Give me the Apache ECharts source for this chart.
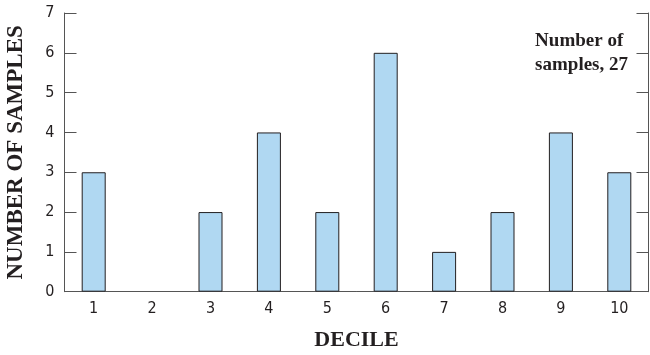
<!DOCTYPE html>
<html>
<head>
<meta charset="utf-8">
<script src="https://cdn.jsdelivr.net/npm/echarts@6/dist/echarts.min.js"></script>
<style>
  html, body { margin: 0; padding: 0; background: #fff; }
  #chart { width: 650px; height: 355px; }
</style>
</head>
<body>
<div id="chart"></div>
<script>
// deciles and sample counts
var deciles = ['1', '2', '3', '4', '5', '6', '7', '8', '9', '10'];
var counts = [3, 0, 2, 4, 2, 6, 1, 2, 4, 3];
var yTicks = [0, 1, 2, 3, 4, 5, 6, 7];
var noteLines = ['Number of', 'samples, 27'];

var axisColor = '#555';
var labelFont = '"Liberation Sans Narrow", "DejaVu Sans Condensed", sans-serif';
var titleFont = '"Liberation Serif", "DejaVu Serif", serif';

// empty deciles get no outline, so nothing sits on the axis
var barData = counts.map(function (v) {
    return v === 0 ? { value: v, itemStyle: { borderWidth: 0 } } : v;
});

var chart = echarts.init(document.getElementById('chart'));
var option = {
    animation: false,
    grid: { left: 64.5, right: 1.5, top: 13, bottom: 63.3, outerBoundsMode: 'none' },
    xAxis: [{
        type: 'category',
        data: deciles,
        name: 'DECILE',
        nameLocation: 'middle',
        nameGap: 38,
        nameTextStyle: { fontFamily: titleFont, fontWeight: 'bold', fontSize: 22, color: '#231f20' },
        axisLine: { lineStyle: { color: axisColor, width: 1 } },
        axisTick: { inside: true, length: 12, alignWithLabel: true, lineStyle: { color: axisColor } },
        axisLabel: { fontFamily: labelFont, fontSize: 16, color: '#231f20', margin: 9 }
    }, {
        type: 'category',
        data: deciles,
        position: 'top',
        axisLine: { lineStyle: { color: axisColor, width: 1 } },
        axisTick: { inside: true, length: 12, alignWithLabel: true, lineStyle: { color: axisColor } },
        axisLabel: { show: false }
    }],
    yAxis: [{
        type: 'value',
        min: yTicks[0],
        max: yTicks[yTicks.length - 1],
        interval: 1,
        name: 'NUMBER OF SAMPLES',
        nameLocation: 'middle',
        nameGap: 37,
        nameTextStyle: { fontFamily: titleFont, fontWeight: 'bold', fontSize: 23, color: '#231f20' },
        splitLine: { show: false },
        axisLine: { show: true, lineStyle: { color: axisColor, width: 1 } },
        axisTick: { show: true, inside: true, length: 12, lineStyle: { color: axisColor } },
        axisLabel: { fontFamily: labelFont, fontSize: 16, color: '#231f20', margin: 10 }
    }, {
        type: 'value',
        min: yTicks[0],
        max: yTicks[yTicks.length - 1],
        interval: 1,
        position: 'right',
        splitLine: { show: false },
        axisLine: { show: true, lineStyle: { color: axisColor, width: 1 } },
        axisTick: { show: true, inside: true, length: 12, lineStyle: { color: axisColor } },
        axisLabel: { show: false }
    }],
    graphic: [{
        type: 'text',
        right: 22,
        top: 29,
        style: {
            text: noteLines.join('\n'),
            align: 'right',
            font: 'bold 19px ' + titleFont,
            lineHeight: 24,
            fill: '#231f20'
        }
    }],
    series: [{
        type: 'bar',
        data: barData,
        barWidth: 24,
        itemStyle: { color: '#b0d8f2', borderColor: '#231f20', borderWidth: 1 }
    }]
};
chart.setOption(option);
</script>
</body>
</html>
